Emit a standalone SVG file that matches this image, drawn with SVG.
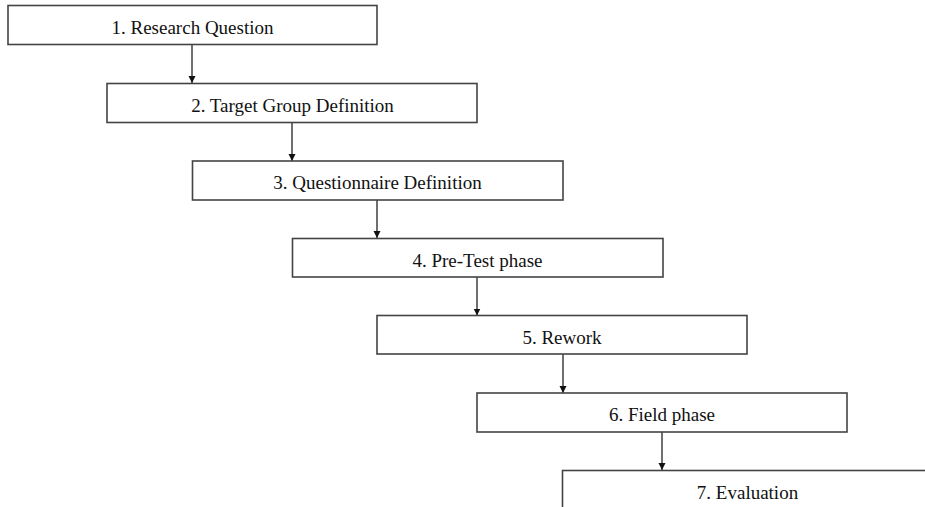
<svg xmlns="http://www.w3.org/2000/svg" width="925" height="507" viewBox="0 0 925 507">
<style>
.box{fill:#fff;stroke:#444;stroke-width:1.6}
.lbl{font-family:"Liberation Serif","Times New Roman",serif;font-size:19px;fill:#111;text-anchor:middle}
.conn{stroke:#222;stroke-width:1.3;fill:none}
</style>
<defs>
<marker id="ah" viewBox="0 0 10 10" refX="10" refY="5" markerWidth="7" markerHeight="8" markerUnits="userSpaceOnUse" orient="auto">
<path d="M0,0 L10,5 L0,10 z" fill="#111"/>
</marker>
</defs>
<rect width="925" height="507" fill="#fff"/>
<g id="connectors">
<line class="conn" x1="192" y1="44.5" x2="192" y2="83" marker-end="url(#ah)"/>
<line class="conn" x1="292" y1="122.5" x2="292" y2="161" marker-end="url(#ah)"/>
<line class="conn" x1="377" y1="200" x2="377" y2="238" marker-end="url(#ah)"/>
<line class="conn" x1="477" y1="277" x2="477" y2="315.5" marker-end="url(#ah)"/>
<line class="conn" x1="563" y1="354" x2="563" y2="393" marker-end="url(#ah)"/>
<line class="conn" x1="662" y1="432" x2="662" y2="470" marker-end="url(#ah)"/>
</g>
<g id="n1"><rect class="box" x="8" y="5.5" width="369" height="39"/><text class="lbl" x="192.5" y="34">1. Research Question</text></g>
<g id="n2"><rect class="box" x="107" y="83.5" width="370" height="39"/><text class="lbl" x="292.5" y="111.5">2. Target Group Definition</text></g>
<g id="n3"><rect class="box" x="192.5" y="161" width="370.5" height="39"/><text class="lbl" x="377.5" y="189">3. Questionnaire Definition</text></g>
<g id="n4"><rect class="box" x="292.5" y="238.5" width="370.5" height="38.5"/><text class="lbl" x="477.5" y="266.5">4. Pre-Test phase</text></g>
<g id="n5"><rect class="box" x="377" y="315.5" width="370" height="38.5"/><text class="lbl" x="562" y="343.5">5. Rework</text></g>
<g id="n6"><rect class="box" x="477" y="393" width="370" height="39"/><text class="lbl" x="662" y="421">6. Field phase</text></g>
<g id="n7"><rect class="box" x="562.5" y="470.5" width="371" height="39"/><text class="lbl" x="747.5" y="498.5">7. Evaluation</text></g>
</svg>
